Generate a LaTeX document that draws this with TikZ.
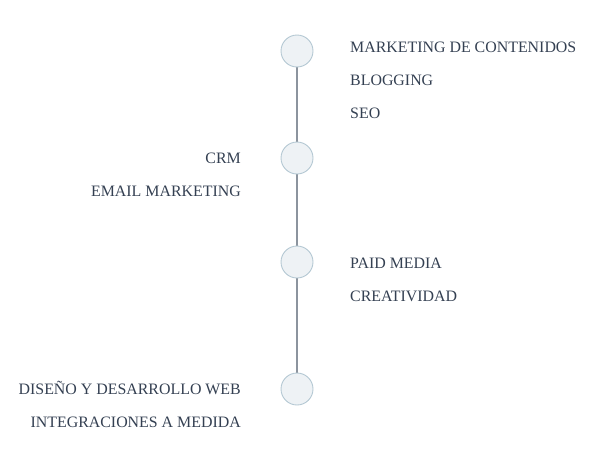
\documentclass[tikz,border=0pt]{standalone}
\usepackage{fontspec}
\setmainfont{Liberation Serif}
\definecolor{linec}{HTML}{8C949E}
\definecolor{circfill}{HTML}{EEF2F5}
\definecolor{circdraw}{HTML}{B4C8D3}
\definecolor{txt}{HTML}{344052}
\begin{document}
\begin{tikzpicture}[x=1pt,y=-1pt,
  dot/.style={circle,minimum size=32pt,inner sep=0pt,fill=circfill,draw=circdraw,line width=0.9pt},
  rlab/.style={anchor=west,inner sep=0pt,text=txt,font=\fontsize{15.9}{17}\selectfont},
  llab/.style={anchor=east,inner sep=0pt,text=txt,font=\fontsize{15.9}{17}\selectfont}]
\useasboundingbox (0,0) rectangle (600,450);
\coordinate (c1) at (297,51);
\coordinate (c4) at (297,389);
\draw[linec,line width=1.8pt] (c1) -- (c4);
\node[dot] (n1) at (297,51) {};
\node[dot] (n2) at (297,158) {};
\node[dot] (n3) at (297,262) {};
\node[dot] (n4) at (297,389) {};
\node[rlab] (t1) at (350,47) {MARKETING DE CONTENIDOS};
\node[rlab] (t2) at (350,80) {BLOGGING};
\node[rlab] (t3) at (350,113) {SEO};
\node[llab] (t4) at (241,158) {CRM};
\node[llab] (t5) at (241,191) {EMAIL MARKETING};
\node[rlab] (t6) at (350,263) {PAID MEDIA};
\node[rlab] (t7) at (350,296) {CREATIVIDAD};
\node[llab] (t8) at (241,388) {DISEÑO Y DESARROLLO WEB};
\node[llab] (t9) at (241,422) {INTEGRACIONES A MEDIDA};
\end{tikzpicture}
\end{document}
